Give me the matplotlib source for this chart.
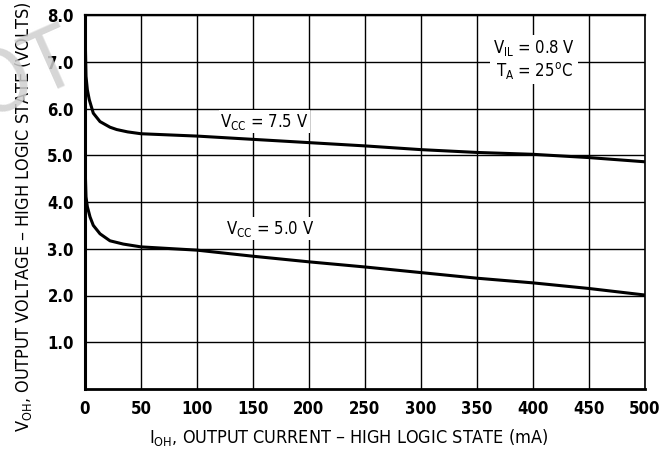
import matplotlib
matplotlib.use("Agg")
import matplotlib.pyplot as plt

plt.rcParams['font.family'] = ['DejaVu Sans']
plt.rcParams['font.stretch'] = 'condensed'
plt.rcParams['mathtext.default'] = 'regular'

# curve readings (mA, volts)
i_75 = [0, 0.3, 0.9, 2.1, 3.8, 7.4, 13.4, 22.3, 28.3, 38, 50, 100, 150, 200, 250, 300, 350, 400, 450, 500]
v_75 = [8.0, 7.4, 6.69, 6.40, 6.19, 5.90, 5.72, 5.60, 5.55, 5.50, 5.46, 5.41, 5.34, 5.27, 5.2, 5.12, 5.06, 5.02, 4.95, 4.86]
i_50 = [0, 0.3, 0.9, 2.1, 4.5, 7.4, 13.4, 22.3, 34.2, 50, 100, 150, 200, 250, 300, 350, 400, 450, 500]
v_50 = [5.0, 4.6, 4.11, 3.90, 3.68, 3.50, 3.32, 3.17, 3.10, 3.04, 2.97, 2.84, 2.72, 2.61, 2.49, 2.37, 2.27, 2.15, 2.01]

xticks = [0, 50, 100, 150, 200, 250, 300, 350, 400, 450, 500]
yticks = [1, 2, 3, 4, 5, 6, 7, 8]
ylabels = ['1.0', '2.0', '3.0', '4.0', '5.0', '6.0', '7.0', '8.0']

fig = plt.figure(figsize=(6.68, 4.49), dpi=100)
ax = fig.add_axes([85/668, 1-389/449, 560/668, 374/449])

ax.plot(i_75, v_75, color='black', lw=2.2, solid_capstyle='butt', solid_joinstyle='round')
ax.plot(i_50, v_50, color='black', lw=2.2, solid_capstyle='butt', solid_joinstyle='round')

ax.set_xlim(0, 500)
ax.set_ylim(0, 8)
ax.set_xticks(xticks)
ax.set_xticklabels([str(t) for t in xticks], fontsize=12, fontweight='semibold')
ax.set_yticks(yticks)
ax.set_yticklabels(ylabels, fontsize=12, fontweight='semibold')
ax.tick_params(length=0, pad=8)
ax.grid(True, color='black', lw=1.0)

ax.spines['left'].set_linewidth(2.2)
ax.spines['bottom'].set_linewidth(2.0)
ax.spines['top'].set_linewidth(1.6)
ax.spines['right'].set_linewidth(1.2)

ax.text(160, 5.72, r'V$_{CC}$ = 7.5 V', fontsize=12, ha='center', va='center',
        bbox=dict(facecolor='white', edgecolor='none', pad=1))
ax.text(165, 3.43, r'V$_{CC}$ = 5.0 V', fontsize=12, ha='center', va='center',
        bbox=dict(facecolor='white', edgecolor='none', pad=1))
ax.text(401, 7.05, 'V$_{IL}$ = 0.8 V\nT$_{A}$ = 25$^{o}$C', fontsize=12,
        ha='center', va='center', linespacing=1.15,
        bbox=dict(facecolor='white', edgecolor='none', pad=2))

fig.text(349/668, 1-437/449,
         r'I$_{OH}$, OUTPUT CURRENT – HIGH LOGIC STATE (mA)',
         fontsize=13, ha='center', va='center')
fig.text(24/668, 1-432/449, r'V$_{OH}$, OUTPUT VOLTAGE – HIGH LOGIC STATE (VOLTS)',
         fontsize=13, rotation=90, ha='center', va='bottom')

# faint watermark at the top left corner
fig.text(-16/668, 1-119/449, 'OT', fontsize=62, rotation=24, rotation_mode='anchor',
         ha='left', va='baseline', color='#cfcfcf', alpha=0.85, zorder=5)

fig.savefig('out.png', dpi=100)
